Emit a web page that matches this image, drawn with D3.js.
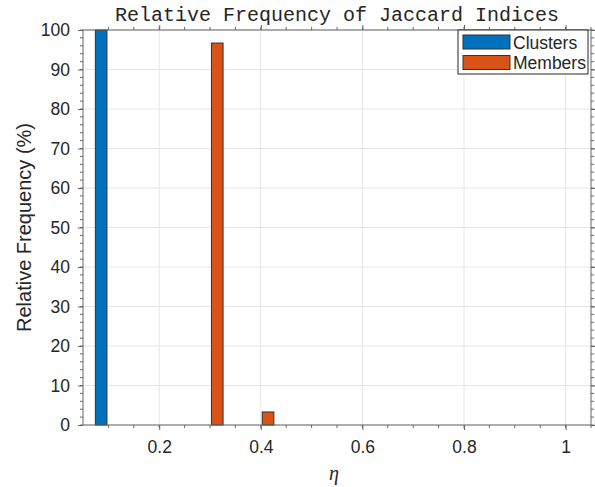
<!DOCTYPE html>
<html>
<head>
<meta charset="utf-8">
<script src="https://cdn.jsdelivr.net/npm/d3@7"></script>
<style>
  body { margin: 0; background: #fff; }
  svg { display: block; }
  text { font-family: Arial, "Liberation Sans", sans-serif; fill: #262626; }
</style>
</head>
<body>
<div id="chart"></div>
<script>
// bin centres (eta) and relative frequency per series
const bins = [0.1, 0.2, 0.3, 0.4, 0.5, 0.6, 0.7, 0.8, 0.9, 1.0];
const clusters = [100, 0, 0, 0, 0, 0, 0, 0, 0, 0];
const members = [0, 0, 96.7, 3.3, 0, 0, 0, 0, 0, 0];
const seriesNames = ['Clusters', 'Members'];
const xTicks = [0.2, 0.4, 0.6, 0.8, 1];
const yTicks = [0, 10, 20, 30, 40, 50, 60, 70, 80, 90, 100];

const colors = ['#0072BD', '#D95319'];
const width = 595, height = 487;
const margin = { top: 30, right: 4, bottom: 62, left: 83 };

const svg = d3.select('#chart').append('svg')
    .attr('width', width)
    .attr('height', height);

const x = d3.scaleLinear().domain([0.05, 1.05]).range([margin.left, width - margin.right]);
const y = d3.scaleLinear().domain([0, 100]).range([height - margin.bottom, margin.top]);

// grid
const grid = svg.append('g');
grid.selectAll('.gx').data(xTicks).enter().append('line')
    .attr('x1', d => x(d)).attr('x2', d => x(d))
    .attr('y1', y(0)).attr('y2', y(100))
    .attr('stroke', '#e6e6e6');
grid.selectAll('.gy').data(yTicks).enter().append('line')
    .attr('x1', x.range()[0]).attr('x2', x.range()[1])
    .attr('y1', d => y(d)).attr('y2', d => y(d))
    .attr('stroke', '#e6e6e6');

// grouped bars, matlab style
const step = bins[1] - bins[0];
const groupW = 2 / 3.5;
const barW = groupW / 2 * 0.8 * step;
const offsets = [-groupW / 4 * step, groupW / 4 * step];
[clusters, members].forEach((vals, s) => {
    svg.append('g').selectAll('rect')
        .data(bins.map((b, i) => ({ b: b, v: vals[i] })).filter(d => d.v > 0))
        .enter().append('rect')
        .attr('x', d => x(d.b + offsets[s] - barW / 2))
        .attr('width', d => x(d.b + offsets[s] + barW / 2) - x(d.b + offsets[s] - barW / 2))
        .attr('y', d => y(d.v))
        .attr('height', d => y(0) - y(d.v))
        .attr('fill', colors[s])
        .attr('stroke', '#333')
        .attr('stroke-width', 1);
});

// axes
const axisColor = '#666';
function styleAxis(g) {
    g.select('.domain').remove();
    g.selectAll('.tick line').attr('stroke', axisColor);
    g.selectAll('.tick text').style('font-size', '17.5px').attr('fill', '#262626');
}
const xMinor = d3.range(0.1, 1.0501, 0.05);
const yMinor = d3.range(0, 100.01, 2);

// minor ticks
function minor(g, vals, pos, horiz, dir) {
    g.selectAll(null).data(vals).enter().append('line')
        .attr('x1', d => horiz ? pos(d) : 0)
        .attr('x2', d => horiz ? pos(d) : dir * 3)
        .attr('y1', d => horiz ? 0 : pos(d))
        .attr('y2', d => horiz ? dir * 3 : pos(d))
        .attr('stroke', axisColor);
}

const gb = svg.append('g').attr('transform', `translate(0,${y(0)})`);
minor(gb, xMinor, x, true, 1);
gb.call(d3.axisBottom(x).tickValues(xTicks).tickFormat(d3.format('~g')).tickSize(5).tickPadding(11)).call(styleAxis);
const gt = svg.append('g').attr('transform', `translate(0,${y(100)})`);
minor(gt, xMinor, x, true, -1);
gt.call(d3.axisTop(x).tickValues(xTicks).tickFormat('').tickSize(5)).call(styleAxis);

const gl = svg.append('g').attr('transform', `translate(${x.range()[0]},0)`);
minor(gl, yMinor, y, false, -1);
gl.call(d3.axisLeft(y).tickValues(yTicks).tickSize(5).tickPadding(8)).call(styleAxis);
const gr = svg.append('g').attr('transform', `translate(${x.range()[1]},0)`);
minor(gr, yMinor, y, false, 1);
gr.call(d3.axisRight(y).tickValues(yTicks).tickFormat('').tickSize(5)).call(styleAxis);

// box
svg.append('rect')
    .attr('x', x.range()[0]).attr('y', y(100))
    .attr('width', x.range()[1] - x.range()[0])
    .attr('height', y(0) - y(100))
    .attr('fill', 'none').attr('stroke', axisColor);

// title and labels
svg.append('text')
    .attr('x', (x.range()[0] + x.range()[1]) / 2).attr('y', 21)
    .attr('text-anchor', 'middle')
    .style('font-family', '"Liberation Mono", "Courier New", monospace')
    .style('font-size', '20px')
    .attr('fill', '#444')
    .text('Relative Frequency of Jaccard Indices');

svg.append('text')
    .attr('transform', `translate(31,${(y(0) + y(100)) / 2}) rotate(-90)`)
    .attr('text-anchor', 'middle')
    .style('font-size', '20px')
    .text('Relative Frequency (%)');

svg.append('text')
    .attr('x', (x.range()[0] + x.range()[1]) / 2 - 3).attr('y', 480)
    .attr('text-anchor', 'middle')
    .style('font-family', '"Liberation Serif", "DejaVu Serif", serif')
    .style('font-style', 'italic')
    .style('font-size', '20px')
    .text('η');

// legend
const lg = svg.append('g').attr('transform', 'translate(458,30)');
lg.append('rect')
    .attr('width', 130).attr('height', 44)
    .attr('fill', '#fff').attr('stroke', '#262626');
seriesNames.forEach((name, i) => {
    lg.append('rect')
        .attr('x', 5).attr('y', 5 + i * 20.5)
        .attr('width', 47).attr('height', 14)
        .attr('fill', colors[i]).attr('stroke', '#333');
    lg.append('text')
        .attr('x', 55).attr('y', 18.5 + i * 20.5)
        .style('font-size', '17.5px')
        .text(name);
});
</script>
</body>
</html>
